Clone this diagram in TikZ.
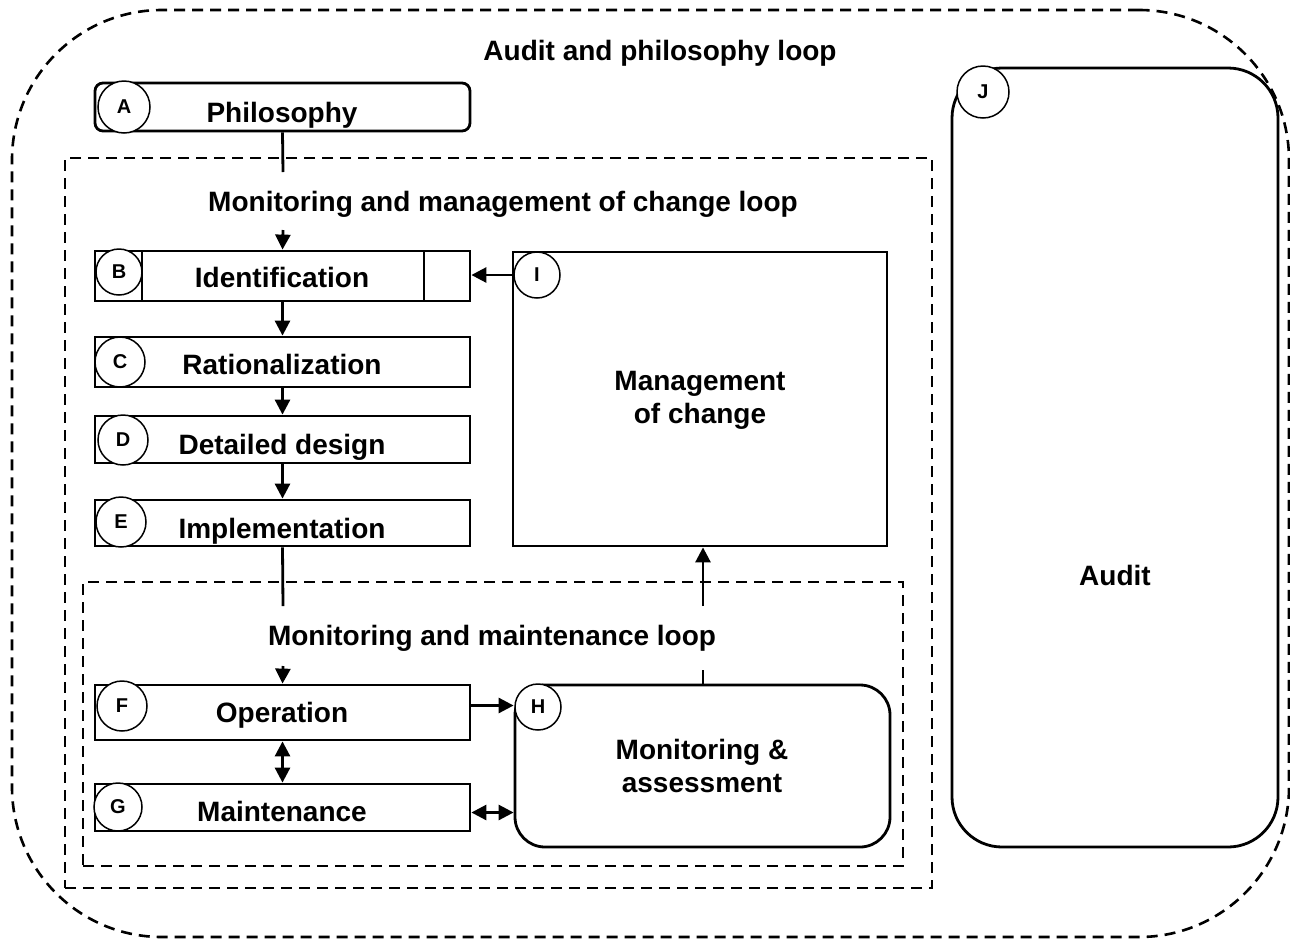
\documentclass[tikz,border=0pt]{standalone}
\usepackage{fontspec}
\setmainfont{Liberation Sans}
\usetikzlibrary{arrows.meta}
\begin{document}
\begin{tikzpicture}[x=1pt,y=-1pt,
 box/.style={draw,line width=2.8pt,inner sep=0pt,fill=white},
 circ/.style={draw,circle,line width=1.5pt,fill=white,inner sep=0pt,font=\fontsize{20}{23}\selectfont\bfseries},
 txt/.style={font=\fontsize{28}{32}\selectfont\bfseries,inner sep=0pt,text height=20pt,text depth=0pt},
 mtxt/.style={font=\fontsize{28}{33}\selectfont\bfseries,inner sep=0pt,align=center},
 loopbox/.style={draw,line width=2.6pt,dash pattern=on 11pt off 7pt,inner sep=0pt},
 conn/.style={line width=2.8pt},
 tip/.tip={Triangle[length=15pt,width=15pt]},
 arr/.style={conn,-tip},
 darr/.style={conn,tip-tip}
]
\useasboundingbox (0,0) rectangle (1290,938);
% containers
\node[loopbox,rounded corners=150pt,minimum width=1277pt,minimum height=927pt] (outer) at (650.5,473.5) {};
\node[loopbox,minimum width=867pt,minimum height=730pt] (mid) at (498.5,523) {};
\node[loopbox,minimum width=820pt,minimum height=284pt] (inner) at (493,724) {};
\node[txt] (t1) at (660,50) {Audit and philosophy loop};
\node[txt] (t2) at (503,201) {Monitoring and management of change loop};
\node[txt] (t3) at (492,635) {Monitoring and maintenance loop};
% boxes
\node[box,rounded corners=8pt,minimum width=375pt,minimum height=48pt] (A) at (282.5,107) {};
\node[box,minimum width=375pt,minimum height=50pt] (B) at (282.5,276) {};
\draw[line width=2.8pt] (142,251) -- (142,301) (424,251) -- (424,301);
\node[box,minimum width=375pt,minimum height=50pt] (C) at (282.5,362) {};
\node[box,minimum width=375pt,minimum height=47pt] (D) at (282.5,439.5) {};
\node[box,minimum width=375pt,minimum height=46pt] (E) at (282.5,523) {};
\node[box,minimum width=375pt,minimum height=55pt] (F) at (282.5,712.5) {};
\node[box,minimum width=375pt,minimum height=47pt] (G) at (282.5,807.5) {};
\node[box,rounded corners=30pt,minimum width=375pt,minimum height=162pt] (H) at (702.5,766) {};
\node[box,minimum width=374pt,minimum height=294pt] (I) at (700,399) {};
\node[box,rounded corners=50pt,minimum width=326pt,minimum height=779pt] (J) at (1115,457.5) {};
% texts
\node[txt] (ta) at (282,112) {Philosophy};
\node[txt] (tb) at (282,277) {Identification};
\node[txt] (tc) at (282,364) {Rationalization};
\begin{scope}
\clip (95,416) rectangle (470,461);
\node[txt] (td) at (282,444) {Detailed design};
\end{scope}
\begin{scope}
\clip (95,500) rectangle (470,544);
\node[txt] (te) at (282,528) {Implementation};
\end{scope}
\node[txt] (tf) at (282,712) {Operation};
\node[txt] (tg) at (282,811) {Maintenance};
\node[mtxt] (th) at (702,766) {Monitoring \&\\assessment};
\node[mtxt] (ti) at (700,400) {Management\\of change};
\node[txt] (tj) at (1115,575) {Audit};
% letter circles
\node[circ,minimum size=52pt] (la) at (124,107) {A};
\node[circ,minimum size=46pt] (lb) at (119,272) {B};
\node[circ,minimum size=50pt] (lc) at (120,362) {C};
\node[circ,minimum size=50pt] (ld) at (123,440) {D};
\node[circ,minimum size=50pt] (le) at (121,522) {E};
\node[circ,minimum size=50pt] (lf) at (122,706) {F};
\node[circ,minimum size=48pt] (lg) at (118,807) {G};
\node[circ,minimum size=46pt] (lh) at (538,707) {H};
\node[circ,minimum size=46pt] (li) at (537,275) {I};
\node[circ,minimum size=52pt] (lj) at (983,92) {J};
% connectors
\coordinate (a1) at (283,172);
\coordinate (b0) at (283,230);
\coordinate (e1) at (283,606);
\coordinate (f0) at (283,666);
\coordinate (h1) at (703,670);
\coordinate (i0) at (703,606);
\draw[conn] (A.south) -- (a1);
\draw[arr] (b0) -- (B.north);
\draw[arr] (B.south) -- (C.north);
\draw[arr] (C.south) -- (D.north);
\draw[arr] (D.south) -- (E.north);
\draw[conn] (E.south) -- (e1);
\draw[arr] (f0) -- (F.north);
\draw[darr] (F.south) -- (G.north);
\draw[arr] ([yshift=7pt]F.east) -- ([yshift=7pt]F.east -| H.west);
\draw[darr] ([yshift=-5pt]G.east) -- ([yshift=-5pt]G.east -| H.west);
\draw[conn] (h1 |- H.north) -- (h1);
\draw[arr] (i0) -- (i0 |- I.south);
\draw[arr] (li.west) -- (li.west -| B.east);
\end{tikzpicture}
\end{document}
